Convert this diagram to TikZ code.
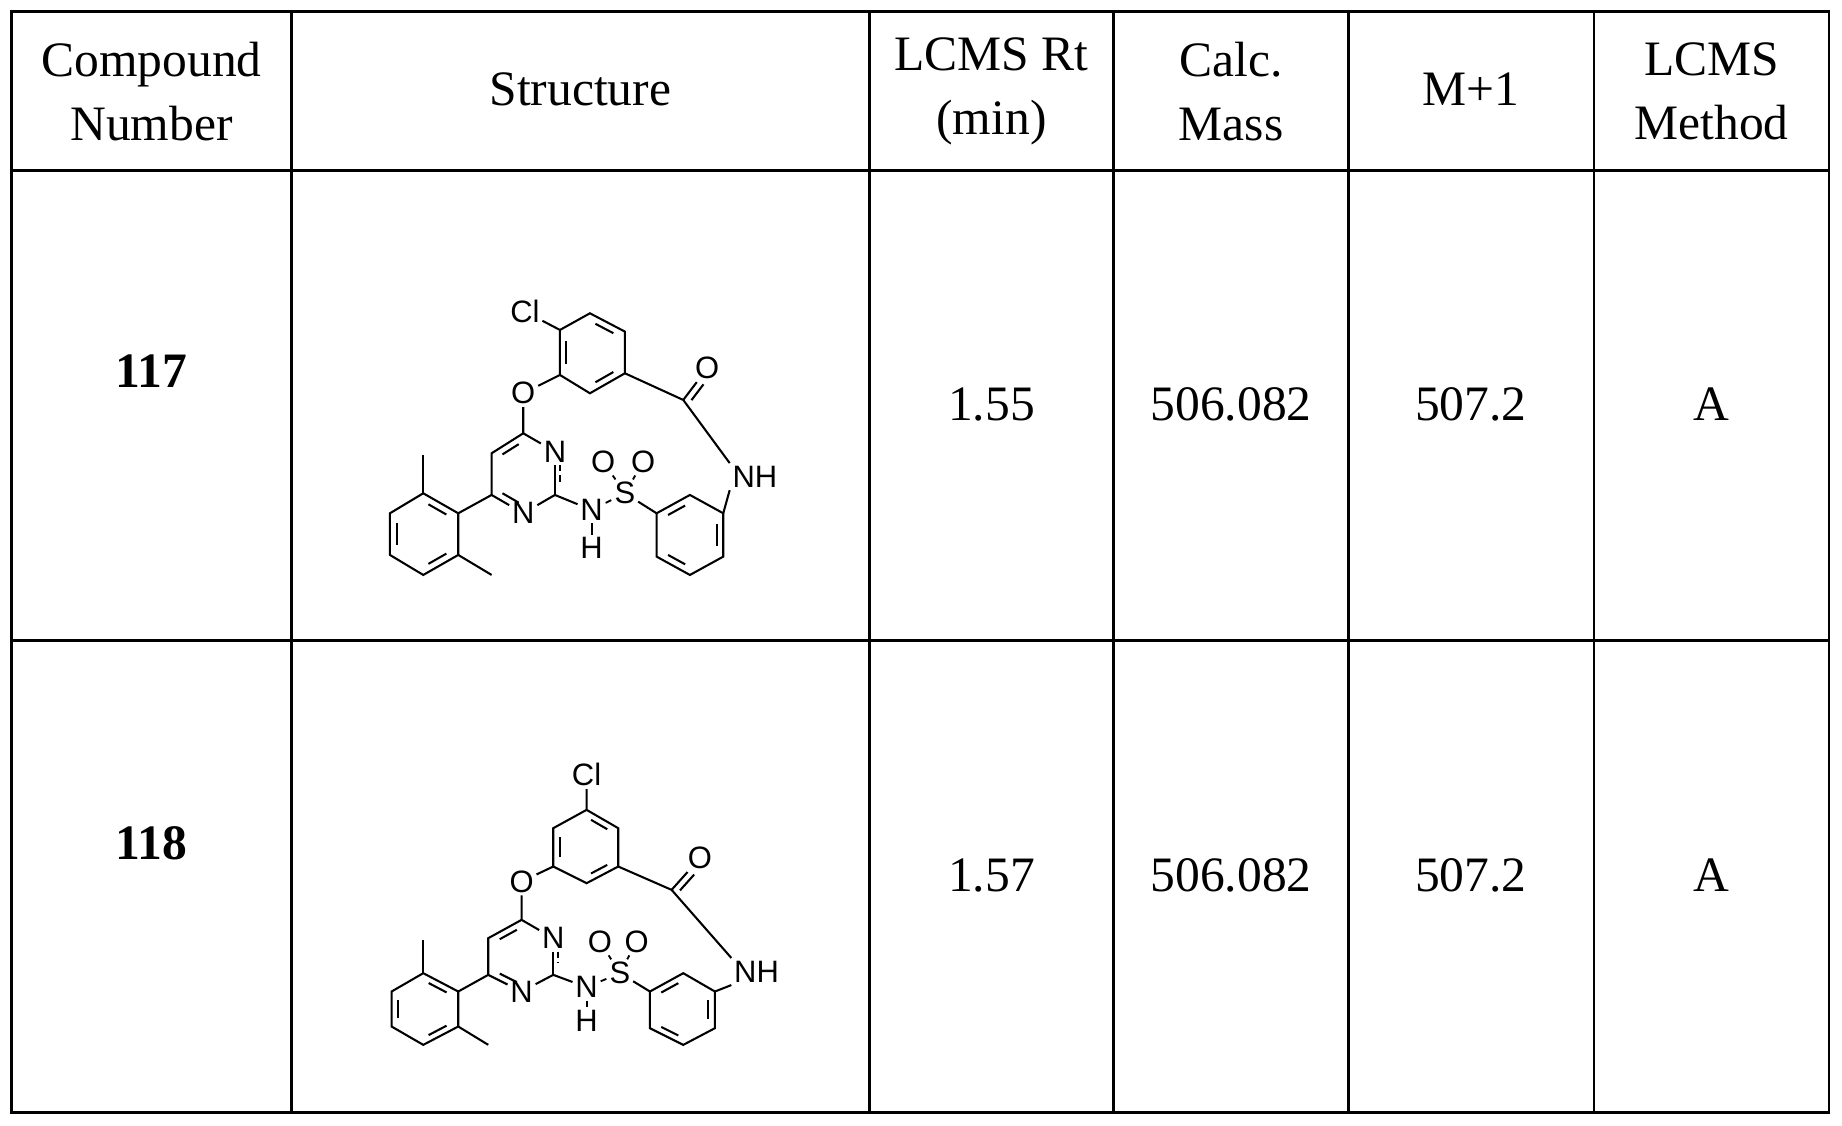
\documentclass[tikz,border=0pt]{standalone}
\usepackage{fontspec}
\setmainfont{Liberation Serif}
\newfontfamily\molfont{Liberation Sans}
\usetikzlibrary{calc}
\tikzset{
  grid/.style={line width=1.3pt},
  hdr/.style={font=\fontsize{24}{31}\selectfont, align=center},
  val/.style={font=\fontsize{24}{31}\selectfont},
  num/.style={font=\bfseries\fontsize{24}{31}\selectfont},
  atom/.style={font=\molfont\fontsize{15}{15}\selectfont, inner sep=1.2pt},
  bond/.style={line width=1pt},
  sbond/.style={line width=0.9pt, densely dashed},
}
\newcommand{\inb}[3]{\draw[bond] ($($(#1)!0.18!(#2)$)!0.2!(#3)$) -- ($($(#2)!0.18!(#1)$)!0.2!(#3)$);}
\begin{document}
\begin{tikzpicture}[x=0.02cm,y=-0.02cm]
\useasboundingbox (0,0) rectangle (1568,958);
% grid
\draw[grid] (10,10) rectangle (1557,947);
\foreach \xx in {248,740,948,1148,1357} \draw[grid] (\xx,10) -- (\xx,947);
\foreach \yy in {145,545} \draw[grid] (10,\yy) -- (1557,\yy);
% header
\node[hdr] (h1) at (129,78) {Compound\\Number};
\node[hdr] (h2) at (494,76) {Structure};
\node[hdr] (h3) at (844,78) {LCMS Rt\\(min)};
\node[hdr] (h4) at (1048,78) {Calc.\\Mass};
\node[hdr] (h5) at (1252,76) {M+1};
\node[hdr] (h6) at (1457,78) {LCMS\\Method};
% rows
\node[num] (n1) at (129,316) {117};
\node[val] (r1a) at (844,344) {1.55};
\node[val] (r1b) at (1048,344) {506.082};
\node[val] (r1c) at (1252,344) {507.2};
\node[val] (r1d) at (1457,344) {A};
\node[num] (n2) at (129,718) {118};
\node[val] (r2a) at (844,745) {1.57};
\node[val] (r2b) at (1048,745) {506.082};
\node[val] (r2c) at (1252,745) {507.2};
\node[val] (r2d) at (1457,745) {A};
% molecule 117
\begin{scope}[shift={(314.9,238.3)}, x=0.005674cm, y=-0.005674cm]
\node[atom] (aCl) at (465,95) {Cl};
\coordinate (ar1) at (570,150); \coordinate (ar2) at (660,100); \coordinate (ar3) at (765,155);
\coordinate (ar4) at (765,280); \coordinate (ar5) at (660,340); \coordinate (ar6) at (570,285);
\coordinate (arc) at (667,218);
\node[atom] (aO) at (460,340) {O};
\coordinate (ap4) at (460,460); \node[atom] (aN3) at (555,515) {N}; \coordinate (ap2) at (555,645);
\node[atom] (aN1) at (460,700) {N}; \coordinate (ap6) at (365,645); \coordinate (ap5) at (365,520);
\coordinate (apc) at (460,580);
\coordinate (ax1) at (265,700); \coordinate (ax2) at (160,640); \coordinate (ax3) at (60,700);
\coordinate (ax4) at (60,825); \coordinate (ax5) at (160,885); \coordinate (ax6) at (265,825);
\coordinate (axc) at (162,762);
\coordinate (am1) at (160,525); \coordinate (am2) at (365,885);
\node[atom] (aNH) at (665,690) {N}; \node[atom] (aH) at (665,805) {H};
\node[atom] (aS) at (765,640) {S};
\node[atom] (aO1) at (700,545) {O}; \node[atom] (aO2) at (820,545) {O};
\coordinate (ab1) at (860,700); \coordinate (ab2) at (960,645); \coordinate (ab3) at (1060,700);
\coordinate (ab4) at (1060,830); \coordinate (ab5) at (960,885); \coordinate (ab6) at (860,830);
\coordinate (abc) at (960,765);
\node[atom] (aNH2) at (1155,590) {NH};
\coordinate (acc) at (940,360); \node[atom] (aOc) at (1012,265) {O};
\draw[bond] (aCl) -- (ar1) -- (ar2) -- (ar3) -- (ar4) -- (ar5) -- (ar6) -- (ar1);
\inb{ar1}{ar6}{arc} \inb{ar2}{ar3}{arc} \inb{ar4}{ar5}{arc}
\draw[bond] (ar6) -- (aO) -- (ap4) -- (aN3);
\draw[bond] (ap4) -- (ap5) -- (ap6) -- (aN1) -- (ap2);
\draw[bond] (aN3.south) -- (ap2);
\draw[bond,densely dashed] ($(aN3.south)+(14,0)$) -- ($(ap2)+(14,-35)$);
\inb{ap4}{ap5}{apc} \inb{ap6}{aN1}{apc}
\draw[bond] (ap6) -- (ax1) -- (ax2) -- (ax3) -- (ax4) -- (ax5) -- (ax6) -- (ax1);
\inb{ax1}{ax2}{axc} \inb{ax3}{ax4}{axc} \inb{ax5}{ax6}{axc}
\draw[bond] (ax2) -- (am1); \draw[bond] (ax6) -- (am2);
\draw[bond] (ap2) -- (aNH); \draw[bond] (aNH) -- (aH);
\draw[sbond] (aNH) -- (aS);
\draw[sbond] (aS) -- (aO1); \draw[sbond] (aS) -- (aO2);
\draw[bond] (aS) -- (ab1);
\draw[bond] (ab1) -- (ab2) -- (ab3) -- (ab4) -- (ab5) -- (ab6) -- (ab1);
\inb{ab1}{ab2}{abc} \inb{ab3}{ab4}{abc} \inb{ab5}{ab6}{abc}
\draw[bond] (ab3) -- (aNH2.south west);
\draw[bond] (aNH2.north west) -- (acc) -- (ar4);
\draw[bond] (acc) -- (aOc);
\draw[bond] ($(acc)!0.12!(aOc)+(16,12)$) -- ($(acc)!0.62!(aOc)+(16,12)$);
\end{scope}
% molecule 118
\begin{scope}[shift={(314.9,638.3)}, x=0.005674cm, y=-0.005674cm]
\node[atom] (bCl) at (650,75) {Cl};
\coordinate (br1) at (650,180); \coordinate (br2) at (745,235); \coordinate (br3) at (745,350);
\coordinate (br4) at (650,400); \coordinate (br5) at (550,350); \coordinate (br6) at (550,235);
\coordinate (brc) at (648,290);
\node[atom] (bO) at (455,395) {O};
\coordinate (bp4) at (455,510); \node[atom] (bN3) at (550,565) {N}; \coordinate (bp2) at (550,675);
\node[atom] (bN1) at (455,725) {N}; \coordinate (bp6) at (355,675); \coordinate (bp5) at (355,565);
\coordinate (bpc) at (455,620);
\coordinate (bx1) at (265,725); \coordinate (bx2) at (160,670); \coordinate (bx3) at (65,725);
\coordinate (bx4) at (65,830); \coordinate (bx5) at (160,885); \coordinate (bx6) at (265,830);
\coordinate (bxc) at (165,778);
\coordinate (bm1) at (160,570); \coordinate (bm2) at (355,885);
\node[atom] (bNH) at (650,712) {N}; \node[atom] (bH) at (650,812) {H};
\node[atom] (bS) at (750,670) {S};
\node[atom] (bO1) at (690,575) {O}; \node[atom] (bO2) at (800,575) {O};
\coordinate (bb1) at (840,725); \coordinate (bb2) at (940,670); \coordinate (bb3) at (1035,725);
\coordinate (bb4) at (1035,835); \coordinate (bb5) at (940,885); \coordinate (bb6) at (840,835);
\coordinate (bbc) at (938,780);
\node[atom] (bNH2) at (1160,665) {NH};
\coordinate (bcc) at (905,420); \node[atom] (bOc) at (990,325) {O};
\draw[bond] (bCl) -- (br1) -- (br2) -- (br3) -- (br4) -- (br5) -- (br6) -- (br1);
\inb{br1}{br2}{brc} \inb{br5}{br6}{brc} \inb{br3}{br4}{brc}
\draw[bond] (br5) -- (bO) -- (bp4) -- (bN3);
\draw[bond] (bp4) -- (bp5) -- (bp6) -- (bN1) -- (bp2);
\draw[bond] (bN3.south) -- (bp2);
\draw[bond,densely dashed] ($(bN3.south)+(14,0)$) -- ($(bp2)+(14,-35)$);
\inb{bp4}{bp5}{bpc} \inb{bp6}{bN1}{bpc}
\draw[bond] (bp6) -- (bx1) -- (bx2) -- (bx3) -- (bx4) -- (bx5) -- (bx6) -- (bx1);
\inb{bx1}{bx2}{bxc} \inb{bx3}{bx4}{bxc} \inb{bx5}{bx6}{bxc}
\draw[bond] (bx2) -- (bm1); \draw[bond] (bx6) -- (bm2);
\draw[bond] (bp2) -- (bNH); \draw[bond] (bNH) -- (bH);
\draw[sbond] (bNH) -- (bS);
\draw[sbond] (bS) -- (bO1); \draw[sbond] (bS) -- (bO2);
\draw[bond] (bS) -- (bb1);
\draw[bond] (bb1) -- (bb2) -- (bb3) -- (bb4) -- (bb5) -- (bb6) -- (bb1);
\inb{bb1}{bb2}{bbc} \inb{bb3}{bb4}{bbc} \inb{bb5}{bb6}{bbc}
\draw[bond] (bb3) -- (bNH2.south west);
\draw[bond] (bNH2.north west) -- (bcc) -- (br3);
\draw[bond] (bcc) -- (bOc);
\draw[bond] ($(bcc)!0.12!(bOc)+(15,13)$) -- ($(bcc)!0.62!(bOc)+(15,13)$);
\end{scope}
\end{tikzpicture}
\end{document}
